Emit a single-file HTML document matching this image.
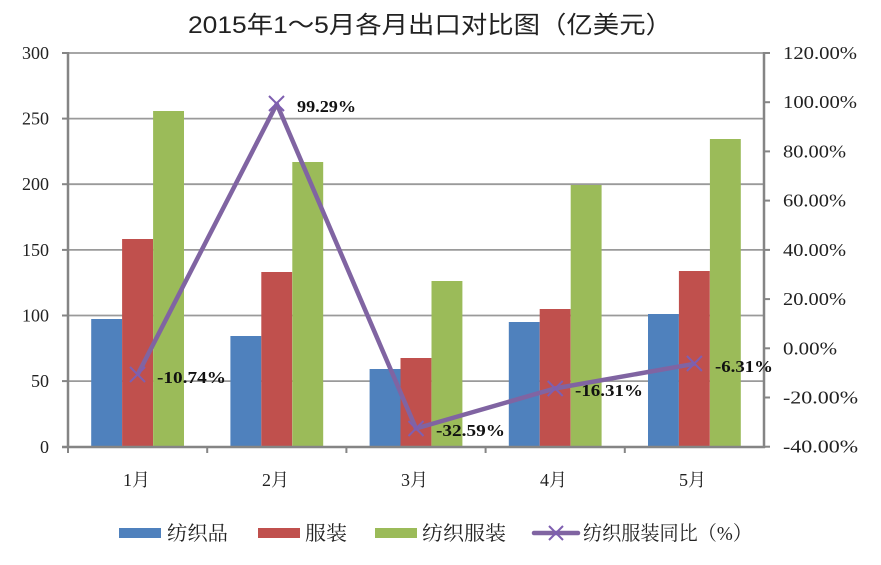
<!DOCTYPE html>
<html><head><meta charset="utf-8"><style>
html,body{margin:0;padding:0;background:#fff;}
svg{display:block;}
.t{font-family:"Liberation Serif","Noto Serif CJK SC",serif;fill:#222;}
.s{font-family:"Liberation Sans","Noto Sans CJK SC",sans-serif;fill:#222;}
.d{font-family:"Liberation Serif","Noto Serif CJK SC",serif;fill:#111;font-weight:bold;font-size:17px;}
</style></head><body>
<svg width="881" height="565" viewBox="0 0 881 565" xmlns="http://www.w3.org/2000/svg">
<rect width="881" height="565" fill="#fff"/>
<text class="s" x="430" y="33" font-size="24" text-anchor="middle" textLength="484" lengthAdjust="spacingAndGlyphs">2015年1～5月各月出口对比图（亿美元）</text>
<!-- gridlines -->
<g stroke="#9a9a9a" stroke-width="1.8">
<line x1="68" y1="53" x2="764" y2="53"/>
<line x1="68" y1="118.6" x2="764" y2="118.6"/>
<line x1="68" y1="184.2" x2="764" y2="184.2"/>
<line x1="68" y1="249.9" x2="764" y2="249.9"/>
<line x1="68" y1="315.5" x2="764" y2="315.5"/>
<line x1="68" y1="381.1" x2="764" y2="381.1"/>
</g>
<!-- bars -->
<g>
<rect x="91.2" y="319" width="30.9" height="128" fill="#4F81BD"/>
<rect x="122.1" y="239" width="30.9" height="208" fill="#C0504D"/>
<rect x="153.1" y="111" width="30.9" height="336" fill="#9BBB59"/>
<rect x="230.4" y="336" width="30.9" height="111" fill="#4F81BD"/>
<rect x="261.3" y="272" width="30.9" height="175" fill="#C0504D"/>
<rect x="292.3" y="162" width="30.9" height="285" fill="#9BBB59"/>
<rect x="369.6" y="369" width="30.9" height="78" fill="#4F81BD"/>
<rect x="400.5" y="358" width="30.9" height="89" fill="#C0504D"/>
<rect x="431.5" y="281" width="30.9" height="166" fill="#9BBB59"/>
<rect x="508.8" y="322" width="30.9" height="125" fill="#4F81BD"/>
<rect x="539.7" y="309" width="30.9" height="138" fill="#C0504D"/>
<rect x="570.7" y="185" width="30.9" height="262" fill="#9BBB59"/>
<rect x="648.0" y="314" width="30.9" height="133" fill="#4F81BD"/>
<rect x="678.9" y="271" width="30.9" height="176" fill="#C0504D"/>
<rect x="709.9" y="139" width="30.9" height="308" fill="#9BBB59"/>
</g>
<!-- axes -->
<g stroke="#858585" stroke-width="2.5">
<line x1="68" y1="52" x2="68" y2="448"/>
<line x1="764" y1="52" x2="764" y2="448"/>
<line x1="62" y1="447" x2="765" y2="447"/>
</g>
<g stroke="#858585" stroke-width="2">
<line x1="62" y1="53" x2="68" y2="53"/>
<line x1="62" y1="118.6" x2="68" y2="118.6"/>
<line x1="62" y1="184.2" x2="68" y2="184.2"/>
<line x1="62" y1="249.9" x2="68" y2="249.9"/>
<line x1="62" y1="315.5" x2="68" y2="315.5"/>
<line x1="62" y1="381.1" x2="68" y2="381.1"/>
<line x1="764" y1="53" x2="770" y2="53"/>
<line x1="764" y1="102.2" x2="770" y2="102.2"/>
<line x1="764" y1="151.4" x2="770" y2="151.4"/>
<line x1="764" y1="200.6" x2="770" y2="200.6"/>
<line x1="764" y1="249.9" x2="770" y2="249.9"/>
<line x1="764" y1="299.1" x2="770" y2="299.1"/>
<line x1="764" y1="348.3" x2="770" y2="348.3"/>
<line x1="764" y1="397.5" x2="770" y2="397.5"/>
<line x1="764" y1="446.7" x2="770" y2="446.7"/>
<line x1="68" y1="447" x2="68" y2="453"/>
<line x1="207.2" y1="447" x2="207.2" y2="453"/>
<line x1="346.4" y1="447" x2="346.4" y2="453"/>
<line x1="485.6" y1="447" x2="485.6" y2="453"/>
<line x1="624.8" y1="447" x2="624.8" y2="453"/>
</g>
<!-- left labels -->
<g class="t" font-size="18" text-anchor="end">
<text x="49" y="59">300</text>
<text x="49" y="124.6">250</text>
<text x="49" y="190.2">200</text>
<text x="49" y="255.9">150</text>
<text x="49" y="321.5">100</text>
<text x="49" y="387.1">50</text>
<text x="49" y="453">0</text>
</g>
<!-- right labels -->
<g class="t" font-size="18">
<text x="783" y="59" textLength="74" lengthAdjust="spacingAndGlyphs">120.00%</text>
<text x="783" y="108.2" textLength="74" lengthAdjust="spacingAndGlyphs">100.00%</text>
<text x="783" y="157.4" textLength="63" lengthAdjust="spacingAndGlyphs">80.00%</text>
<text x="783" y="206.6" textLength="63" lengthAdjust="spacingAndGlyphs">60.00%</text>
<text x="783" y="255.9" textLength="63" lengthAdjust="spacingAndGlyphs">40.00%</text>
<text x="783" y="305.1" textLength="63" lengthAdjust="spacingAndGlyphs">20.00%</text>
<text x="783" y="354.3" textLength="54" lengthAdjust="spacingAndGlyphs">0.00%</text>
<text x="783" y="403.5" textLength="75" lengthAdjust="spacingAndGlyphs">-20.00%</text>
<text x="783" y="452.7" textLength="75" lengthAdjust="spacingAndGlyphs">-40.00%</text>
</g>
<!-- category labels -->
<g class="t" font-size="18">
<text x="123" y="486" textLength="27" lengthAdjust="spacingAndGlyphs">1月</text>
<text x="262" y="486" textLength="27" lengthAdjust="spacingAndGlyphs">2月</text>
<text x="401" y="486" textLength="27" lengthAdjust="spacingAndGlyphs">3月</text>
<text x="540" y="486" textLength="27" lengthAdjust="spacingAndGlyphs">4月</text>
<text x="679" y="486" textLength="27" lengthAdjust="spacingAndGlyphs">5月</text>
</g>
<!-- line -->
<polyline points="137.6,374.7 276.8,104 416,428.5 555.2,388.4 694.4,363.8" fill="none" stroke="#8064A2" stroke-width="4.5" stroke-linejoin="round"/>
<g stroke="#7E5FB0" stroke-width="2">
<path d="M130,367 L145,382 M145,367 L130,382"/>
<path d="M269,96 L284,111 M284,96 L269,111"/>
<path d="M408.5,421 L423.5,436 M423.5,421 L408.5,436"/>
<path d="M547.7,381 L562.7,396 M562.7,381 L547.7,396"/>
<path d="M686.9,356 L701.9,371 M701.9,356 L686.9,371"/>
</g>
<!-- data labels -->
<text class="d" x="157" y="383" textLength="69" lengthAdjust="spacingAndGlyphs">-10.74%</text>
<text class="d" x="297" y="112" textLength="59" lengthAdjust="spacingAndGlyphs">99.29%</text>
<text class="d" x="436" y="436" textLength="69" lengthAdjust="spacingAndGlyphs">-32.59%</text>
<text class="d" x="575" y="396" textLength="68" lengthAdjust="spacingAndGlyphs">-16.31%</text>
<text class="d" x="715" y="372" textLength="58" lengthAdjust="spacingAndGlyphs">-6.31%</text>
<!-- legend -->
<rect x="119" y="528" width="42" height="10" fill="#4F81BD"/>
<text class="t" x="167" y="540" font-size="20" textLength="61" lengthAdjust="spacingAndGlyphs">纺织品</text>
<rect x="258" y="528" width="42" height="10" fill="#C0504D"/>
<text class="t" x="305" y="540" font-size="20" textLength="42" lengthAdjust="spacingAndGlyphs">服装</text>
<rect x="375" y="528" width="42" height="10" fill="#9BBB59"/>
<text class="t" x="422" y="540" font-size="20" textLength="84" lengthAdjust="spacingAndGlyphs">纺织服装</text>
<line x1="534" y1="533" x2="578" y2="533" stroke="#8064A2" stroke-width="4.5" stroke-linecap="round"/>
<path d="M549,526 L563,540 M563,526 L549,540" stroke="#7E5FB0" stroke-width="2"/>
<text class="t" x="583" y="540" font-size="20" textLength="169" lengthAdjust="spacingAndGlyphs">纺织服装同比（%）</text>
</svg>
</body></html>
